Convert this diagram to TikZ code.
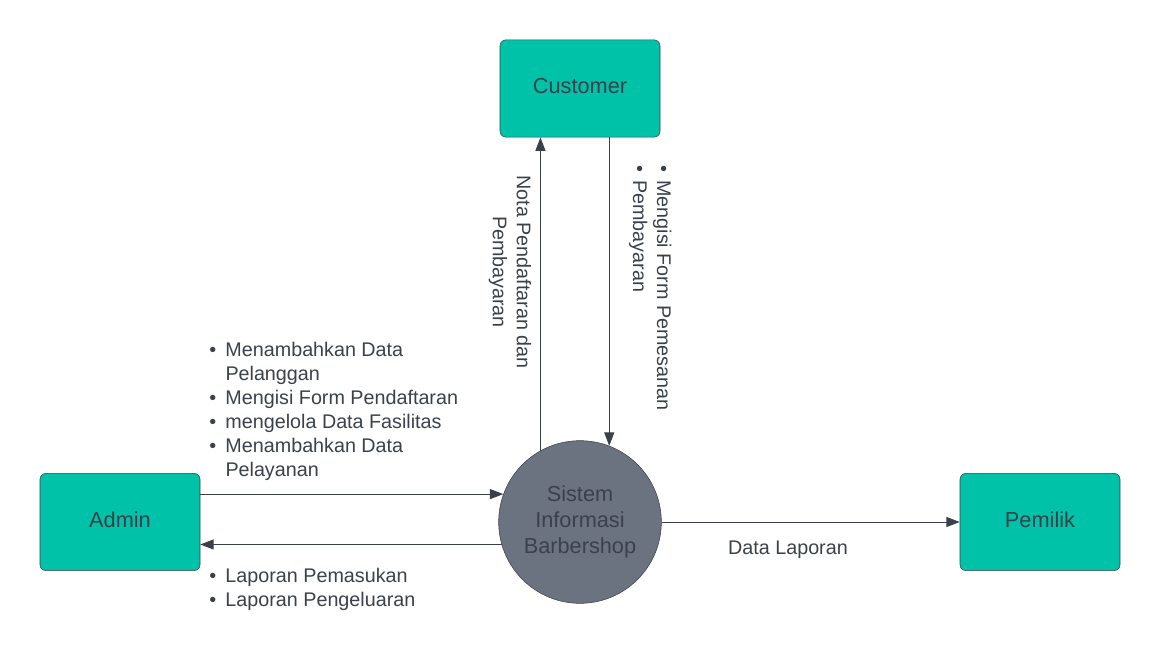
\documentclass[tikz,border=0pt]{standalone}
\usepackage{fontspec}
\setmainfont{Liberation Sans}
\usetikzlibrary{arrows.meta,positioning}
\definecolor{tealbox}{HTML}{00C2A8}
\definecolor{greyproc}{HTML}{6C7380}
\definecolor{inkgrey}{HTML}{3A414A}

\begin{document}
\begin{tikzpicture}[x=0.75pt,y=-0.75pt,
    entity/.style={draw=inkgrey, fill=tealbox, rounded corners=4.5pt, minimum width=120pt, minimum height=73pt, text depth=4pt, text=inkgrey, font=\fontsize{16.3}{19.5}\selectfont},
    process/.style={circle, draw=inkgrey, fill=greyproc, minimum size=122pt, inner sep=0pt, align=center, text=inkgrey, font=\fontsize{16.3}{19.5}\selectfont},
    flow/.style={draw=inkgrey, line width=0.75pt, -{Triangle[length=10pt,width=7.5pt]}},
    lbl/.style={text=inkgrey, inner sep=0pt, font=\fontsize{14.8}{18}\selectfont}]
    \useasboundingbox (0,0) rectangle (1160,660);

    % Draw the external entities and the process
    \node[entity] (cust) at (580,88.5) {Customer};
    \node[entity] (adm) at (120,522) {Admin};
    \node[entity] (pem) at (1040,522) {Pemilik};
    \node[process] (sys) at (580,522) {Sistem\\Informasi\\Barbershop};

    % Draw the data flows
    \draw[flow] (sys.119) -- (sys.119 |- cust.south);
    \draw[flow] (cust.south -| sys.69) -- (sys.69);
    \draw[flow] (adm.east |- sys.160) -- (sys.160);
    \draw[flow] (sys.196) -- (sys.196 -| adm.east);
    \draw[flow] (sys.east) -- (pem.west);

    % Label the data flows
    \node[lbl, rotate=-90, align=center] (notalbl) at (510,272) {Nota Pendaftaran dan\\Pembayaran};
    \node[lbl, rotate=-90] (formlbl) at (650,288) {\begin{tabular}{@{}l@{\hspace{6pt}}l@{}}
        \textbullet & Mengisi Form Pemesanan\\
        \textbullet & Pembayaran
    \end{tabular}};
    \node[lbl, anchor=north west] (inputlbl) at (209,339) {\begin{tabular}{@{}l@{\hspace{7pt}}l@{}}
        \textbullet & Menambahkan Data\\
                    & Pelanggan\\
        \textbullet & Mengisi Form Pendaftaran\\
        \textbullet & mengelola Data Fasilitas\\
        \textbullet & Menambahkan Data\\
                    & Pelayanan
    \end{tabular}};
    \node[lbl, anchor=north west] (laporanlbl) at (209,565) {\begin{tabular}{@{}l@{\hspace{7pt}}l@{}}
        \textbullet & Laporan Pemasukan\\
        \textbullet & Laporan Pengeluaran
    \end{tabular}};
    \node[lbl] (datalbl) at (788,550) {Data Laporan};

\end{tikzpicture}
\end{document}
